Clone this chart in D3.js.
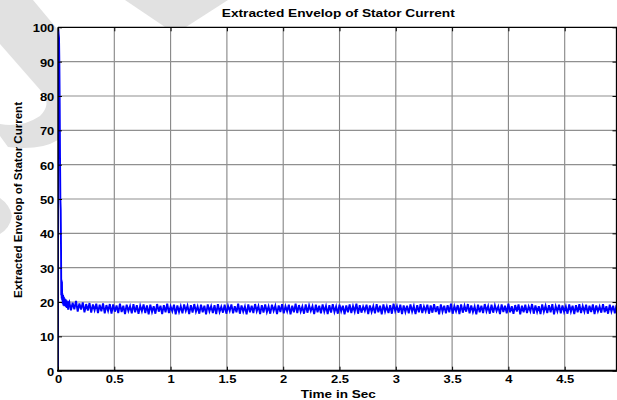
<!DOCTYPE html>
<html>
<head>
<meta charset="utf-8">
<script src="https://cdn.jsdelivr.net/npm/d3@7"></script>
<style>
  body { margin: 0; background: #fff; }
  text { font-family: "Liberation Sans", Arial, sans-serif; font-weight: bold; fill: #000; }
</style>
</head>
<body>
<div id="chart"></div>
<script>
// axis ticks
const xTicks = [0, 0.5, 1, 1.5, 2, 2.5, 3, 3.5, 4, 4.5];
const yTicks = [0, 10, 20, 30, 40, 50, 60, 70, 80, 90, 100];

// start-up transient (time in sec, envelope)
const startTime = [0, 0.001, 0.003, 0.006, 0.009, 0.012, 0.015, 0.018, 0.021, 0.024, 0.027, 0.029,
  0.031, 0.033, 0.035, 0.037, 0.039, 0.042, 0.045, 0.048, 0.052, 0.056, 0.06, 0.064, 0.068,
  0.072, 0.076, 0.08, 0.085, 0.09, 0.095];
const startValue = [0, 60, 99.5, 98, 97, 90, 78, 62, 50, 47, 35, 22,
  26.5, 21, 26, 20.5, 22.5, 19.5, 22, 19, 21.5, 18.8, 21, 19.2, 20.8,
  18.5, 20.5, 18.3, 20.2, 17.8, 19.8];

// steady part, sampled every 0.015 s from 0.1 s
const steadyStart = 0.1;
const steadyStep = 0.015;
const steadyValue = [
  20.1,17.6,19.8,17.9,20.3,17.2,19.6,17.8,19.9,17.0,19.4,17.5,19.7,16.9,19.3,17.6,19.5,16.8,19.2,17.3,19.6,16.7,19.1,17.4,19.4,
  16.6,19.3,17.2,19.0,16.8,19.5,17.1,18.9,16.5,19.2,17.4,18.8,16.7,19.4,17.0,19.1,16.6,18.9,17.3,19.3,16.8,19.0,16.4,19.2,17.1,
  18.8,16.6,19.4,17.2,18.9,16.5,19.1,17.0,19.5,16.8,18.7,17.3,19.2,16.4,19.0,17.1,18.8,16.7,19.3,17.4,18.9,16.5,19.1,16.9,19.4,
  17.2,18.7,16.6,19.2,17.0,18.9,16.4,19.3,17.3,18.8,16.8,19.1,16.5,19.4,17.1,18.6,16.9,19.2,16.6,18.9,17.4,19.3,16.7,18.8,17.0,
  19.5,16.6,19.0,17.2,18.7,16.4,19.3,17.0,18.9,16.8,19.4,17.3,18.8,16.5,19.1,16.9,19.3,17.1,18.7,16.6,19.2,17.4,18.9,16.5,19.0,
  17.1,19.4,16.7,18.8,17.3,19.2,16.4,18.9,17.0,19.5,16.8,19.1,17.2,18.7,16.6,19.3,16.9,19.0,17.4,18.8,16.5,19.2,17.0,18.9,16.7,
  19.3,17.2,18.8,16.5,19.1,16.9,19.4,17.1,18.7,16.6,19.2,17.3,18.9,16.4,19.0,17.0,19.3,16.8,18.8,17.2,19.5,16.6,19.1,16.9,18.7,
  17.4,19.2,16.5,19.0,17.1,18.8,16.7,19.4,17.0,18.9,16.4,19.3,17.2,18.7,16.8,19.1,16.6,19.5,17.3,18.8,16.9,19.2,16.5,19.0,17.1,
  18.9,16.7,19.3,17.2,18.8,16.5,19.1,17.0,19.4,16.8,18.7,17.3,19.2,16.6,19.0,16.9,19.4,17.1,18.8,16.4,19.3,17.2,18.9,16.7,19.1,
  17.0,19.5,16.6,18.8,17.3,19.1,16.5,19.3,16.9,18.9,17.2,19.4,16.7,19.0,17.1,18.7,16.4,19.2,17.0,18.9,16.8,19.4,17.3,18.8,16.6,
  19.2,16.9,19.0,17.4,18.7,16.5,19.3,17.1,18.9,16.7,19.5,17.0,18.8,16.6,19.1,17.2,19.3,16.4,18.9,17.0,19.2,16.8,18.7,17.3,19.4,
  16.6,19.0,17.1,18.8,16.5,19.3,17.2,18.9,16.8,19.1,17.0,19.4,16.4,18.8,17.3,19.2,16.7,19.0,17.1,18.7,16.6,19.3,17.2,18.9,16.5,
  19.1,17.0,19.4,16.8,18.8,17.2,19.2,16.6,18.9,17.1,19.3,16.5,19.0,17.3,18.7,16.9,19.4,17.0,18.8,16.6,19.2,17.2,18.9,16.7,19.1
];

const data = startTime.map((t, i) => ({t: t, v: startValue[i]}))
  .concat(steadyValue.map((v, i) => ({t: steadyStart + i * steadyStep, v: v})));

const W = 617, H = 400;
const plotLeft = 58, plotRight = 616.5, plotTop = 27.3, plotBottom = 370.7;
const sx = 1.2; // text in the picture is stretched sideways

const svg = d3.select("#chart").append("svg")
  .attr("width", W)
  .attr("height", H);

// faint watermark behind the axes
const mark = svg.append("g").attr("fill", "#e1e1e1");
mark.append("path").attr("d", "M0,0 L33,0 L58,30 L58,140 Q40,151 8,147 L0,136 L0,124 Q22,128 40,116 Q52,104 42,92 L0,44 Z");
mark.append("path").attr("d", "M125,0 L228,0 L200,18 L186,27 L165,27 Z");
mark.append("path").attr("d", "M0,198 Q10,205 12,216 Q10,228 0,234 Z");

const x = d3.scaleLinear().domain([0, 4.96]).range([plotLeft, plotRight]);
const y = d3.scaleLinear().domain([0, 100]).range([plotBottom, plotTop]);

// white axes area
svg.append("rect")
  .attr("x", plotLeft).attr("y", plotTop)
  .attr("width", plotRight - plotLeft).attr("height", plotBottom - plotTop)
  .attr("fill", "#fff");

// grid
svg.append("g").selectAll("line")
  .data(xTicks.slice(1))
  .enter().append("line")
  .attr("x1", d => x(d)).attr("x2", d => x(d))
  .attr("y1", plotTop).attr("y2", plotBottom)
  .attr("stroke", "#858585").attr("stroke-width", 1.1);

svg.append("g").selectAll("line")
  .data(yTicks.slice(1, -1))
  .enter().append("line")
  .attr("x1", plotLeft).attr("x2", plotRight)
  .attr("y1", d => y(d)).attr("y2", d => y(d))
  .attr("stroke", "#909090").attr("stroke-width", 1.2);

// the curve
svg.append("clipPath").attr("id", "plotClip")
  .append("rect")
  .attr("x", plotLeft).attr("y", plotTop - 1)
  .attr("width", plotRight - plotLeft).attr("height", plotBottom - plotTop + 1);

const line = d3.line()
  .x(d => x(d.t))
  .y(d => y(d.v));

svg.append("path")
  .datum(data)
  .attr("clip-path", "url(#plotClip)")
  .attr("d", line)
  .attr("fill", "none")
  .attr("stroke", "#0000ff")
  .attr("stroke-width", 1.9)
  .attr("stroke-linejoin", "miter");

// axes (MATLAB style, ticks pointing in)
const xAxis = svg.append("g")
  .attr("transform", `translate(0,${plotBottom})`)
  .call(d3.axisBottom(x).tickValues(xTicks).tickSize(-4).tickSizeOuter(0).tickFormat(d3.format("")));

const yAxis = svg.append("g")
  .attr("transform", `translate(${plotLeft},0)`)
  .call(d3.axisLeft(y).tickValues(yTicks).tickSize(-4).tickSizeOuter(0));

svg.append("g")
  .attr("transform", `translate(0,${plotTop})`)
  .call(d3.axisTop(x).tickValues(xTicks).tickSize(-4).tickSizeOuter(0).tickFormat(""));

svg.append("g")
  .attr("transform", `translate(${plotRight},0)`)
  .call(d3.axisRight(y).tickValues(yTicks).tickSize(-4).tickSizeOuter(0).tickFormat(""));

svg.selectAll(".domain").remove();
svg.selectAll(".tick line").attr("stroke", "#000").attr("stroke-width", 1);

xAxis.selectAll("text")
  .attr("y", 0)
  .attr("dy", 0)
  .attr("transform", `translate(0,12.5) scale(${sx},1)`)
  .style("font-size", "10.8px")
  .style("font-family", "'Liberation Sans', Arial, sans-serif")
  .style("font-weight", "bold");

yAxis.selectAll("text")
  .attr("x", -3.7 / sx)
  .attr("dy", 4.5)
  .attr("transform", `scale(${sx},1)`)
  .style("font-size", "10.8px")
  .style("font-family", "'Liberation Sans', Arial, sans-serif")
  .style("font-weight", "bold");

// axes box
svg.append("line")
  .attr("x1", plotLeft).attr("x2", plotRight + 1)
  .attr("y1", plotTop).attr("y2", plotTop)
  .attr("stroke", "#000").attr("stroke-width", 1.3);
svg.append("line")
  .attr("x1", plotLeft - 1).attr("x2", plotRight + 1)
  .attr("y1", plotBottom).attr("y2", plotBottom)
  .attr("stroke", "#000").attr("stroke-width", 2);
svg.append("line")
  .attr("x1", plotLeft).attr("x2", plotLeft)
  .attr("y1", plotTop).attr("y2", plotBottom)
  .attr("stroke", "#000").attr("stroke-width", 1.4);
svg.append("line")
  .attr("x1", plotRight).attr("x2", plotRight)
  .attr("y1", plotTop).attr("y2", plotBottom)
  .attr("stroke", "#000").attr("stroke-width", 1.3);

// titles
svg.append("text")
  .attr("x", 338.3).attr("y", 17)
  .attr("text-anchor", "middle")
  .attr("textLength", 233).attr("lengthAdjust", "spacingAndGlyphs")
  .style("font-size", "11px")
  .text("Extracted Envelop of Stator Current");

svg.append("text")
  .attr("x", 338.3).attr("y", 397.5)
  .attr("text-anchor", "middle")
  .attr("textLength", 75).attr("lengthAdjust", "spacingAndGlyphs")
  .style("font-size", "11.5px")
  .text("Time in Sec");

svg.append("text")
  .attr("transform", "translate(21.5,200) rotate(-90)")
  .attr("text-anchor", "middle")
  .attr("textLength", 196).attr("lengthAdjust", "spacingAndGlyphs")
  .style("font-size", "11.5px")
  .text("Extracted Envelop of Stator Current");
</script>
</body>
</html>
